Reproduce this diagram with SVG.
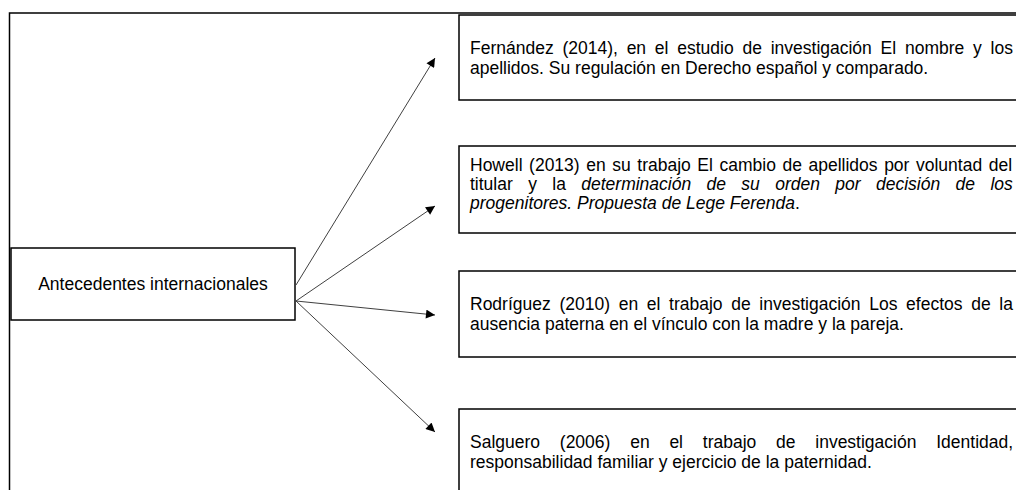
<svg xmlns="http://www.w3.org/2000/svg" width="1016" height="490" viewBox="0 0 1016 490">
<style>
.box{fill:#fff;stroke:#000;stroke-width:1.5}
.t{font-family:"Liberation Sans",Arial,sans-serif;font-size:17.5px;fill:#000}
.i{font-style:italic}
.conn line{stroke:#404040;stroke-width:1}
</style>
<defs>
<marker id="ah" viewBox="0 0 10 10" refX="10" refY="5" markerWidth="11" markerHeight="9" markerUnits="userSpaceOnUse" orient="auto">
<path d="M0,0 L10,5 L0,10 z" fill="#000"/>
</marker>
</defs>
<rect width="1016" height="490" fill="#fff"/>
<path d="M9.5,490 L9.5,13 L1016,13" fill="none" stroke="#000" stroke-width="1.5"/>
<g id="central">
<rect class="box" x="11" y="248" width="284" height="72"/>
<text class="t" x="153" y="290" text-anchor="middle">Antecedentes internacionales</text>
</g>
<g id="n1">
<rect class="box" x="459" y="15" width="600" height="85"/>
<text class="t" x="470" y="54" word-spacing="3.9">Fernández (2014), en el estudio de investigación El nombre y los</text>
<text class="t" x="470" y="74">apellidos. Su regulación en Derecho español y comparado.</text>
</g>
<g id="n2">
<rect class="box" x="459" y="146" width="600" height="87"/>
<text class="t" x="470" y="171" word-spacing="1.7">Howell (2013) en su trabajo El cambio de apellidos por voluntad del</text>
<text class="t" x="470" y="190" word-spacing="10.5">titular y la <tspan class="i">determinación de su orden por decisión de los</tspan></text>
<text class="t" x="470" y="209"><tspan class="i">progenitores. Propuesta de Lege Ferenda</tspan>.</text>
</g>
<g id="n3">
<rect class="box" x="459" y="271" width="600" height="86"/>
<text class="t" x="470" y="310" word-spacing="3.8">Rodríguez (2010) en el trabajo de investigación Los efectos de la</text>
<text class="t" x="470" y="330">ausencia paterna en el vínculo con la madre y la pareja.</text>
</g>
<g id="n4">
<rect class="box" x="459" y="409" width="600" height="100"/>
<text class="t" x="470" y="448" word-spacing="14.9">Salguero (2006) en el trabajo de investigación Identidad,</text>
<text class="t" x="470" y="468">responsabilidad familiar y ejercicio de la paternidad.</text>
</g>
<g id="connectors" class="conn">
<line x1="296" y1="285" x2="435" y2="58" marker-end="url(#ah)"/>
<line x1="296" y1="301" x2="435" y2="206" marker-end="url(#ah)"/>
<line x1="296" y1="301" x2="435" y2="315" marker-end="url(#ah)"/>
<line x1="296" y1="301" x2="435" y2="432" marker-end="url(#ah)"/>
</g>
</svg>
